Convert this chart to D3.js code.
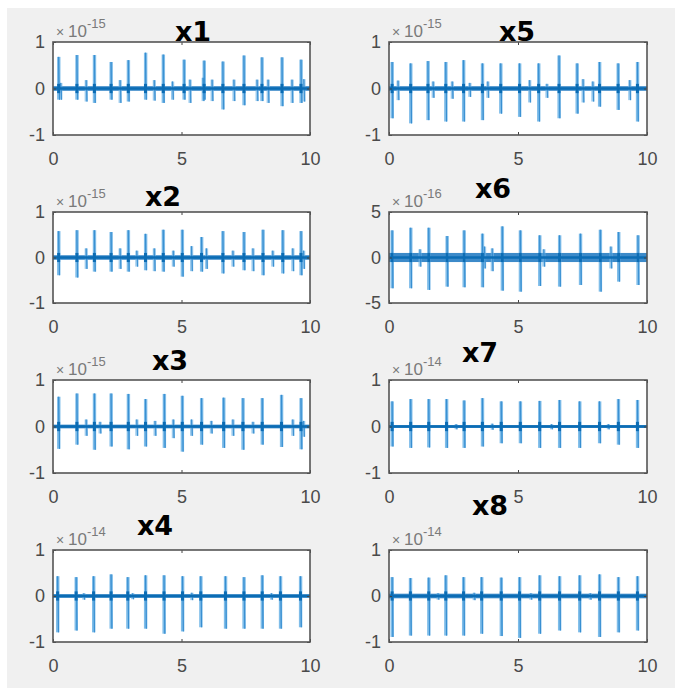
<!DOCTYPE html>
<meta charset="utf-8">
<style>
body { margin: 0; background: #fff; }
.tick text { font: 18px 'Liberation Sans', Arial, sans-serif; fill: #4a4a4a; }
.tick line { stroke: #444; }
.domain { display: none; }
.title { font: bold 27px 'DejaVu Sans', sans-serif; fill: #000; text-anchor: middle; }
.expo { font-family: 'Liberation Sans', Arial, sans-serif; fill: #7a7a7a; }
</style>
<body>
<script src="https://cdnjs.cloudflare.com/ajax/libs/d3/7.8.5/d3.min.js"></script>
<script>
// panel order: left column x1..x4, right column x5..x8
var panelNames = ["x1", "x2", "x3", "x4", "x5", "x6", "x7", "x8"];
var panelExponents = ["-15", "-15", "-15", "-14", "-15", "-16", "-14", "-14"];
var panelLimits = [1, 1, 1, 1, 1, 5, 1, 1];
var panelNoise = [0.05, 0.05, 0.04, 0.04, 0.05, 0.5, 0.03, 0.05];
var xTicks = [0, 5, 10];

// main spikes: [time, peak, trough]
var x1Spikes = [[0.22, 0.68, -0.24], [0.93, 0.72, -0.24], [1.61, 0.72, -0.31], [2.26, 0.57, -0.24],
  [2.93, 0.61, -0.28], [3.60, 0.77, -0.24], [4.29, 0.73, -0.31], [5.10, 0.62, -0.24],
  [5.88, 0.60, -0.24], [6.61, 0.58, -0.45], [7.43, 0.71, -0.36], [8.13, 0.67, -0.27],
  [8.91, 0.67, -0.38], [9.65, 0.62, -0.31]];
var x2Spikes = [[0.22, 0.58, -0.39], [0.93, 0.60, -0.44], [1.61, 0.60, -0.31], [2.26, 0.56, -0.31],
  [2.93, 0.60, -0.31], [3.60, 0.52, -0.28], [4.29, 0.61, -0.31], [5.03, 0.61, -0.42],
  [5.78, 0.45, -0.31], [6.61, 0.58, -0.35], [7.43, 0.56, -0.28], [8.17, 0.61, -0.39],
  [8.94, 0.60, -0.35], [9.65, 0.58, -0.39]];
var x3Spikes = [[0.22, 0.64, -0.48], [0.93, 0.71, -0.39], [1.61, 0.71, -0.50], [2.26, 0.71, -0.43],
  [2.93, 0.70, -0.49], [3.60, 0.59, -0.43], [4.33, 0.70, -0.46], [5.03, 0.66, -0.54],
  [5.78, 0.61, -0.39], [6.64, 0.62, -0.46], [7.39, 0.61, -0.50], [8.14, 0.61, -0.39],
  [8.89, 0.68, -0.44], [9.65, 0.61, -0.49]];
var x4Spikes = [[0.18, 0.43, -0.79], [0.90, 0.41, -0.75], [1.58, 0.43, -0.79], [2.26, 0.47, -0.71],
  [2.91, 0.41, -0.71], [3.60, 0.45, -0.71], [4.32, 0.45, -0.82], [5.04, 0.43, -0.77],
  [5.75, 0.43, -0.68], [6.71, 0.43, -0.71], [7.43, 0.41, -0.71], [8.14, 0.45, -0.71],
  [8.85, 0.43, -0.71], [9.63, 0.43, -0.68]];
var x5Spikes = [[0.12, 0.57, -0.64], [0.84, 0.54, -0.75], [1.51, 0.59, -0.68], [2.20, 0.57, -0.71],
  [2.89, 0.61, -0.71], [3.62, 0.54, -0.68], [4.33, 0.54, -0.54], [5.06, 0.54, -0.61],
  [5.80, 0.54, -0.71], [6.59, 0.71, -0.64], [7.29, 0.54, -0.54], [8.16, 0.57, -0.39],
  [8.88, 0.54, -0.46], [9.63, 0.57, -0.71]];
var x6Spikes = [[0.12, 2.98, -3.38], [0.84, 3.27, -3.38], [1.54, 3.27, -3.56], [2.25, 2.36, -3.20],
  [2.91, 2.98, -3.27], [3.62, 2.62, -3.27], [4.39, 3.42, -3.64], [5.09, 2.98, -3.75],
  [5.84, 2.44, -3.13], [6.61, 2.44, -3.20], [7.42, 2.62, -3.02], [8.19, 3.05, -3.75],
  [8.90, 2.80, -2.65], [9.65, 2.44, -3.02]];
var x7Spikes = [[0.12, 0.54, -0.43], [0.84, 0.59, -0.46], [1.54, 0.59, -0.45], [2.23, 0.59, -0.46],
  [2.91, 0.56, -0.46], [3.62, 0.61, -0.43], [4.35, 0.54, -0.36], [5.09, 0.54, -0.36],
  [5.84, 0.55, -0.46], [6.61, 0.57, -0.46], [7.39, 0.54, -0.46], [8.16, 0.54, -0.36],
  [8.89, 0.59, -0.39], [9.63, 0.57, -0.46]];
var x8Spikes = [[0.12, 0.41, -0.89], [0.83, 0.39, -0.86], [1.54, 0.40, -0.86], [2.20, 0.45, -0.86],
  [2.89, 0.41, -0.86], [3.59, 0.41, -0.82], [4.35, 0.40, -0.87], [5.06, 0.41, -0.91],
  [5.84, 0.45, -0.82], [6.61, 0.43, -0.75], [7.39, 0.45, -0.79], [8.16, 0.47, -0.89],
  [8.89, 0.41, -0.79], [9.63, 0.43, -0.75]];

// smaller bursts between spikes: [time, peak, trough]
var x1Bursts = [[0.30, 0.12, -0.24], [1.29, 0.18, -0.28], [2.61, 0.18, -0.31], [3.94, 0.18, -0.26],
  [4.65, 0.15, -0.24], [5.33, 0.19, -0.31], [5.84, 0.23, -0.27], [6.19, 0.19, -0.27],
  [7.04, 0.19, -0.27], [7.94, 0.19, -0.27], [8.37, 0.19, -0.31], [9.30, 0.19, -0.31], [9.76, 0.20, -0.28]];
var x2Bursts = [[1.29, 0.20, -0.25], [2.61, 0.20, -0.25], [3.26, 0.15, -0.20], [3.94, 0.20, -0.30],
  [4.68, 0.15, -0.20], [5.39, 0.25, -0.30], [5.97, 0.20, -0.25], [7.00, 0.15, -0.20],
  [7.78, 0.20, -0.30], [8.55, 0.15, -0.20], [9.33, 0.20, -0.30], [9.75, 0.15, -0.25]];
var x3Bursts = [[1.29, 0.15, -0.20], [1.83, 0.10, -0.15], [3.26, 0.15, -0.20], [3.97, 0.12, -0.20],
  [4.68, 0.15, -0.25], [5.39, 0.15, -0.20], [6.16, 0.12, -0.15], [7.00, 0.15, -0.20],
  [7.78, 0.10, -0.15], [9.33, 0.15, -0.20], [9.75, 0.12, -0.22]];
var x4Bursts = [[1.20, 0.06, -0.08], [3.10, 0.06, -0.07], [5.40, 0.07, -0.09], [8.50, 0.06, -0.08]];
var x5Bursts = [[0.35, 0.17, -0.25], [1.71, 0.15, -0.20], [2.45, 0.15, -0.22], [3.13, 0.12, -0.18],
  [3.83, 0.15, -0.20], [5.45, 0.18, -0.30], [6.12, 0.10, -0.20], [7.52, 0.20, -0.30],
  [7.90, 0.15, -0.28], [9.33, 0.18, -0.25]];
var x6Bursts = [[1.20, 0.9, -1.0], [3.70, 1.2, -1.2], [4.00, 1.0, -1.5], [6.00, 0.9, -1.0], [8.60, 1.2, -1.2]];
var x7Bursts = [[2.60, 0.05, -0.06], [4.00, 0.06, -0.07], [6.30, 0.05, -0.06], [8.50, 0.05, -0.06]];
var x8Bursts = [[1.90, 0.06, -0.08], [3.30, 0.07, -0.09], [5.50, 0.06, -0.08], [7.80, 0.06, -0.08]];

var panelSpikes = [x1Spikes, x2Spikes, x3Spikes, x4Spikes, x5Spikes, x6Spikes, x7Spikes, x8Spikes];
var panelBursts = [x1Bursts, x2Bursts, x3Bursts, x4Bursts, x5Bursts, x6Bursts, x7Bursts, x8Bursts];

// layout
var colLeft = [53, 389], colRight = [310, 647];
var rowTop = [42, 212, 380, 550], rowBottom = [135, 303, 473, 642];
var titleX = [193, 163, 170, 155, 517, 493, 480, 490];
var titleY = [41, 206, 370, 535, 41, 198, 362, 515];

var svg = d3.select("body").append("svg")
    .attr("width", 675)
    .attr("height", 688);

svg.append("rect")
    .attr("x", 7).attr("y", 8)
    .attr("width", 668).attr("height", 680)
    .attr("fill", "#f0f0f0");

var line = d3.line()
    .x(function(d) { return d[0]; })
    .y(function(d) { return d[1]; });

var plainFormat = function(d) { return String(d); };

panelNames.forEach(function(name, i) {
  var col = i < 4 ? 0 : 1, row = i % 4;
  var left = colLeft[col], top = rowTop[row];
  var w = colRight[col] - left, h = rowBottom[row] - top;
  var lim = panelLimits[i];

  var x = d3.scaleLinear().domain([0, 10]).range([0, w]);
  var y = d3.scaleLinear().domain([-lim, lim]).range([h, 0]);

  var g = svg.append("g").attr("transform", "translate(" + left + "," + top + ")");

  g.append("rect").attr("width", w).attr("height", h).attr("fill", "#fff");

  g.append("clipPath").attr("id", "clip" + i)
    .append("rect").attr("width", w).attr("height", h);
  var plot = g.append("g").attr("clip-path", "url(#clip" + i + ")");

  var spikes = panelSpikes[i], bursts = panelBursts[i];
  var noise = panelNoise[i];

  // noise band around zero
  plot.append("rect")
      .attr("x", 0).attr("width", w)
      .attr("y", y(noise)).attr("height", y(-noise) - y(noise))
      .attr("fill", "#1a76bf").attr("opacity", 0.85);

  plot.selectAll(".burst")
    .data(bursts)
    .enter().append("rect")
      .attr("class", "burst")
      .attr("x", function(d) { return x(d[0]) - 1.5; })
      .attr("width", 3.2)
      .attr("y", function(d) { return y(d[1]); })
      .attr("height", function(d) { return y(d[2]) - y(d[1]); })
      .attr("fill", "#6fb4e6").attr("opacity", 0.7);

  plot.selectAll(".spike")
    .data(spikes)
    .enter().append("rect")
      .attr("class", "spike")
      .attr("x", function(d) { return x(d[0]) - 1.6; })
      .attr("width", 3.4)
      .attr("y", function(d) { return y(d[1]); })
      .attr("height", function(d) { return y(d[2]) - y(d[1]); })
      .attr("fill", "#69b1e5").attr("opacity", 0.85);

  // the signal trace through every spike and burst
  var events = spikes.concat(bursts).sort(function(a, b) { return a[0] - b[0]; });
  var pts = [[x(0), y(0)]];
  events.forEach(function(d) {
    pts.push([x(d[0]), y(0)], [x(d[0]), y(d[1])], [x(d[0]) + 0.8, y(d[2])], [x(d[0]) + 0.8, y(0)]);
  });
  pts.push([x(10), y(0)]);
  plot.append("path")
      .datum(pts)
      .attr("d", line)
      .attr("fill", "none")
      .attr("stroke", "#2a86cc")
      .attr("stroke-width", 0.8)
      .attr("opacity", 0.8);

  plot.append("line")
      .attr("x1", 0).attr("x2", w)
      .attr("y1", y(0)).attr("y2", y(0))
      .attr("stroke", "#0b6cb4")
      .attr("stroke-width", 2.4);

  // dark blobs near zero at each spike
  plot.selectAll(".blob")
    .data(spikes)
    .enter().append("rect")
      .attr("class", "blob")
      .attr("x", function(d) { return x(d[0]) - 1.5; })
      .attr("width", 3)
      .attr("y", y(lim * 0.1))
      .attr("height", y(-lim * 0.1) - y(lim * 0.1))
      .attr("fill", "#0b6cb4");

  // axes
  g.append("g")
      .attr("transform", "translate(0," + h + ")")
      .call(d3.axisBottom(x).tickValues(xTicks).tickSizeInner(-3).tickSizeOuter(0).tickPadding(17));
  g.append("g")
      .call(d3.axisTop(x).tickValues(xTicks).tickSizeInner(-3).tickSizeOuter(0).tickFormat(""));
  g.append("g")
      .call(d3.axisLeft(y).tickValues([-lim, 0, lim]).tickFormat(plainFormat)
        .tickSizeInner(-3).tickSizeOuter(0).tickPadding(8));
  g.append("g")
      .attr("transform", "translate(" + w + ",0)")
      .call(d3.axisRight(y).tickValues([-lim, 0, lim]).tickSizeInner(-3).tickSizeOuter(0).tickFormat(""));

  g.append("rect")
      .attr("width", w).attr("height", h)
      .attr("fill", "none")
      .attr("stroke", "#555")
      .attr("stroke-width", 1.6);

  // exponent label
  var ex = g.append("text")
      .attr("class", "expo")
      .attr("x", 3).attr("y", -5);
  ex.append("tspan").attr("font-size", "14px").text("× ");
  ex.append("tspan").attr("font-size", "17px").text("10");
  ex.append("tspan").attr("font-size", "13px").attr("dy", -9).text(panelExponents[i]);

  svg.append("text")
      .attr("class", "title")
      .attr("x", titleX[i])
      .attr("y", titleY[i])
      .text(name);
});
</script>
